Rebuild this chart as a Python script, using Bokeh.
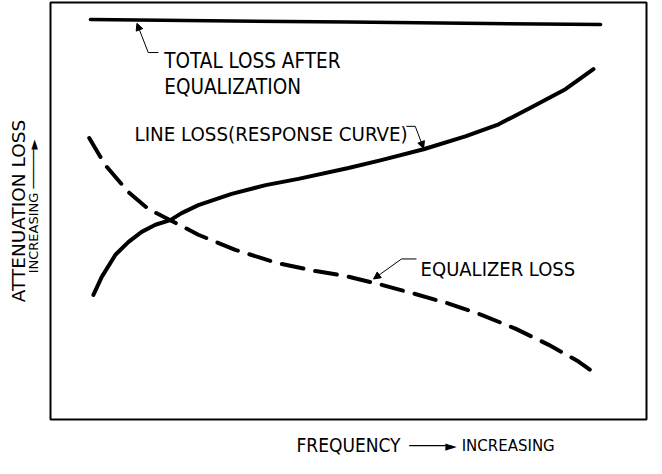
from bokeh.plotting import figure
from bokeh.models import Range1d, Label, Arrow, NormalHead, LinearAxis, FixedTicker
from bokeh.embed import file_html
from bokeh.resources import INLINE

# Frequency (0-100, relative) and attenuation loss (0-100, relative)
freq_line = [7.2, 8.6, 10.9, 13.1, 15.3, 17.6, 20.1, 22.0, 24.8, 30.4, 36.1, 41.6, 50.0, 55.5, 62.6, 69.6, 75.2, 80.7, 86.4, 91.1]
loss_line = [29.9, 34.2, 39.5, 42.6, 45.0, 46.7, 47.8, 49.5, 51.4, 54.1, 56.2, 57.7, 60.3, 62.2, 64.8, 67.9, 70.8, 74.9, 79.2, 84.0]

freq_eq = [6.5, 9.2, 13.1, 16.4, 20.1, 24.8, 31.0, 37.8, 44.5, 49.5, 55.0, 61.2, 66.8, 72.3, 78.0, 83.6, 88.6, 91.6]
loss_eq = [67.5, 61.0, 54.5, 50.5, 47.8, 44.3, 40.7, 37.6, 35.6, 34.4, 32.5, 30.1, 27.8, 25.1, 21.8, 17.9, 13.9, 10.8]

freq_total = [6.7, 50.0, 92.3]
loss_total = [95.9, 95.3, 94.7]

label_total = ["TOTAL LOSS AFTER", "EQUALIZATION"]
label_line = "LINE LOSS(RESPONSE CURVE)"
label_eq = "EQUALIZER LOSS"
y_title = "ATTENUATION LOSS"
y_sub = "INCREASING \u2500\u2500\u2500\u2500\u2500\u25BA"
y_sub_pos = 51.1
x_title = "FREQUENCY"
x_sub = "\u2500\u2500\u2500\u2500\u25BA INCREASING"
x_sub_pos = 72.4

FONT = "DejaVu Sans Condensed"

p = figure(width=650, height=458, output_backend="svg", toolbar_location=None,
           x_axis_type=None, y_axis_type=None,
           x_range=Range1d(0, 100), y_range=Range1d(0, 100),
           min_border_left=50, min_border_right=4, min_border_top=2, min_border_bottom=38)
p.outline_line_color = "black"
p.outline_line_width = 2
p.background_fill_color = "white"
p.border_fill_color = "white"

p.line(freq_total, loss_total, line_color="black", line_width=3.5, line_cap="round")
p.line(freq_line, loss_line, line_color="black", line_width=4, line_cap="round", line_join="round")
p.line(freq_eq, loss_eq, line_color="black", line_width=4, line_dash="22 12", line_cap="round", line_join="round")

def leader(xs, ys):
    p.line(xs[:-1], ys[:-1], line_color="black", line_width=1)
    p.add_layout(Arrow(end=NormalHead(size=7, fill_color="black", line_color="black"),
                       x_start=xs[-2], y_start=ys[-2], x_end=xs[-1], y_end=ys[-1],
                       line_color="black", line_width=1))

leader([18.1, 16.4, 14.5], [88.0, 88.0, 95.0])
leader([59.7, 61.2, 62.6], [70.3, 70.3, 65.0])
leader([61.4, 58.9, 54.2], [38.5, 38.5, 33.7])

def txt(x, y, s, size="20px"):
    p.add_layout(Label(x=x, y=y, text=s, text_font=FONT, text_font_size=size,
                       text_color="black", text_baseline="alphabetic", text_align="left"))

txt(19.1, 85.9, label_total[0], "20.5px")
txt(19.1, 79.7, label_total[1], "20.5px")
txt(14.1, 68.4, label_line, "20.3px")
txt(62.1, 36.1, label_eq)

def bare_axis(ax):
    ax.axis_line_color = None
    ax.major_tick_line_color = None
    ax.minor_tick_line_color = None
    ax.major_tick_out = 0
    ax.major_tick_in = 0
    ax.major_label_text_color = "black"
    ax.axis_label_text_color = "black"
    ax.axis_label_text_font_style = "normal"

# y-axis titles
yax = LinearAxis(ticker=FixedTicker(ticks=[y_sub_pos]),
                 major_label_overrides={y_sub_pos: y_sub},
                 axis_label=y_title)
bare_axis(yax)
yax.major_label_orientation = "vertical"
yax.major_label_standoff = 9
yax.major_label_text_font = "DejaVu Sans"
yax.major_label_text_font_size = "13px"
yax.axis_label_text_font = "DejaVu Sans"
yax.axis_label_text_font_size = "18.5px"
yax.axis_label_standoff = -5
p.add_layout(yax, "left")

# x-axis titles
xax = LinearAxis(ticker=FixedTicker(ticks=[x_sub_pos]),
                 major_label_overrides={x_sub_pos: x_sub},
                 axis_label=x_title)
bare_axis(xax)
xax.major_label_standoff = 17
xax.major_label_text_font = "DejaVu Sans"
xax.major_label_text_font_size = "15px"
xax.axis_label_text_font = FONT
xax.axis_label_text_font_size = "19px"
xax.axis_label_standoff = -24
p.add_layout(xax, "below")

open("out.html", "w").write(file_html(p, INLINE))
